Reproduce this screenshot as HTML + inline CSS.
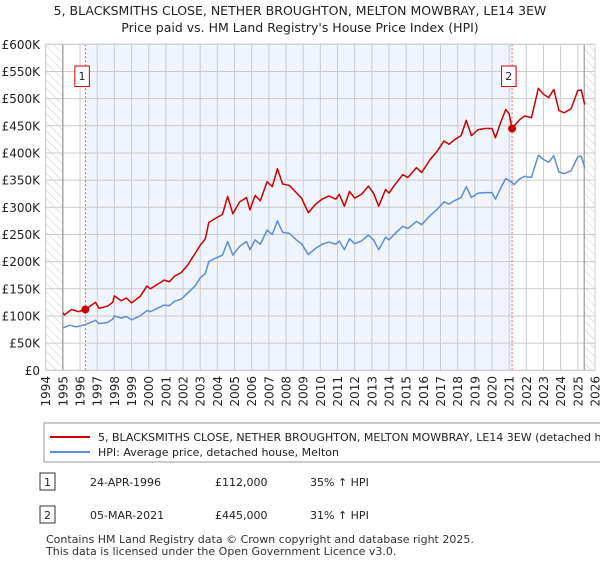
<!DOCTYPE html>
<html><head><meta charset="utf-8"><style>
body{margin:0;background:#fff;font-family:"Liberation Sans","DejaVu Sans",sans-serif;}
svg text{font-family:"DejaVu Sans","Liberation Sans",sans-serif;}
</style></head><body>
<svg id="chart" width="600" height="560" viewBox="0 0 600 560" xmlns="http://www.w3.org/2000/svg">
<defs><pattern id="hatch" width="6" height="6" patternUnits="userSpaceOnUse" patternTransform="rotate(-45)"><line x1="0" y1="0" x2="0" y2="6" stroke="#ccc" stroke-width="1"/></pattern></defs>
<text x="300" y="15" text-anchor="middle" font-size="12.5" fill="#222">5, BLACKSMITHS CLOSE, NETHER BROUGHTON, MELTON MOWBRAY, LE14 3EW</text>
<text x="300" y="32" text-anchor="middle" font-size="12.5" fill="#222">Price paid vs. HM Land Registry's House Price Index (HPI)</text>
<g id="plot"></g>
<g>
<rect x="44" y="423" width="560" height="39" fill="#fff" stroke="#999"/>
<line x1="50" y1="437" x2="90" y2="437" stroke="#cc0000" stroke-width="2"/>
<text x="98" y="441" font-size="11" fill="#222">5, BLACKSMITHS CLOSE, NETHER BROUGHTON, MELTON MOWBRAY, LE14 3EW (detached hous</text>
<line x1="50" y1="452" x2="90" y2="452" stroke="#5b8ed6" stroke-width="2"/>
<text x="98" y="456" font-size="11" fill="#222">HPI: Average price, detached house, Melton</text>
</g>
<g>
<rect x="40" y="473" width="15" height="17" fill="#fff" stroke="#333"/>
<text x="47.5" y="486" text-anchor="middle" font-size="11" fill="#222">1</text>
<text x="90" y="486" font-size="11" fill="#222">24-APR-1996</text>
<text x="215" y="486" font-size="11" fill="#222">£112,000</text>
<text x="310" y="486" font-size="11" fill="#222">35% ↑ HPI</text>
<rect x="40" y="506" width="15" height="17" fill="#fff" stroke="#333"/>
<text x="47.5" y="519" text-anchor="middle" font-size="11" fill="#222">2</text>
<text x="90" y="519" font-size="11" fill="#222">05-MAR-2021</text>
<text x="215" y="519" font-size="11" fill="#222">£445,000</text>
<text x="310" y="519" font-size="11" fill="#222">31% ↑ HPI</text>
</g>
<text x="46" y="543" font-size="11" fill="#333">Contains HM Land Registry data © Crown copyright and database right 2025.</text>
<text x="46" y="555" font-size="11" fill="#333">This data is licensed under the Open Government Licence v3.0.</text>
</svg>
<script>
const hpiYears=[1995.0,1995.4,1995.8,1996.3,1996.9,1997.1,1997.6,1997.9,1998.0,1998.4,1998.7,1999.0,1999.5,1999.9,2000.1,2000.5,2000.9,2001.2,2001.5,2001.9,2002.3,2002.7,2003.0,2003.3,2003.5,2003.8,2004.3,2004.6,2004.9,2005.3,2005.7,2005.9,2006.2,2006.5,2006.9,2007.2,2007.5,2007.8,2008.2,2008.6,2008.9,2009.3,2009.7,2010.1,2010.5,2010.9,2011.1,2011.4,2011.7,2012.0,2012.4,2012.8,2013.1,2013.4,2013.8,2014.0,2014.3,2014.8,2015.1,2015.6,2015.9,2016.4,2016.8,2017.2,2017.5,2017.8,2018.2,2018.5,2018.8,2019.2,2019.6,2020.0,2020.2,2020.5,2020.8,2021.1,2021.3,2021.6,2021.9,2022.3,2022.7,2023.0,2023.3,2023.6,2023.9,2024.2,2024.6,2025.0,2025.2,2025.4];
const hpiValues=[78,83,80,84,92,86,88,94,100,96,99,93,100,110,108,114,120,119,127,131,143,155,170,178,200,205,212,237,212,228,237,222,240,232,258,250,275,254,252,240,233,213,224,232,236,232,238,222,242,233,238,249,240,222,245,240,250,265,261,274,268,285,296,310,306,312,318,338,318,326,327,327,315,335,353,347,342,352,357,355,396,388,383,395,365,362,367,393,394,373];
const priceYears=[1995.0,1995.1,1995.5,1995.9,1996.31,1996.9,1997.1,1997.6,1997.9,1998.0,1998.4,1998.7,1999.0,1999.5,1999.9,2000.1,2000.5,2000.9,2001.2,2001.5,2001.9,2002.3,2002.7,2003.0,2003.3,2003.5,2003.8,2004.3,2004.6,2004.9,2005.3,2005.7,2005.9,2006.2,2006.5,2006.9,2007.2,2007.5,2007.8,2008.2,2008.6,2008.9,2009.3,2009.7,2010.1,2010.5,2010.9,2011.1,2011.4,2011.7,2012.0,2012.4,2012.8,2013.1,2013.4,2013.8,2014.0,2014.3,2014.8,2015.1,2015.6,2015.9,2016.4,2016.8,2017.2,2017.5,2017.8,2018.2,2018.5,2018.8,2019.2,2019.6,2020.0,2020.2,2020.5,2020.8,2021.0,2021.17,2021.3,2021.6,2021.9,2022.3,2022.7,2023.0,2023.3,2023.6,2023.9,2024.2,2024.6,2025.0,2025.2,2025.4];
const priceValues=[106,102,112,108,112,125,114,118,125,137,128,133,124,136,155,150,158,166,163,173,180,195,215,230,242,272,278,287,320,288,310,318,295,322,312,347,338,371,343,340,327,317,290,305,315,321,315,324,302,329,317,324,339,326,302,333,326,340,360,355,373,364,388,403,422,416,424,432,460,432,443,445,445,428,456,480,472,445,450,461,468,465,519,508,502,517,478,474,481,515,516,489];
const saleYears=[1996.31,2021.17];
const saleValues=[112,445];
const saleLabels=["1","2"];
const yTicks=[0,50,100,150,200,250,300,350,400,450,500,550,600];
const yTickLabels=["£0","£50K","£100K","£150K","£200K","£250K","£300K","£350K","£400K","£450K","£500K","£550K","£600K"];
const xTicks=[1994,1995,1996,1997,1998,1999,2000,2001,2002,2003,2004,2005,2006,2007,2008,2009,2010,2011,2012,2013,2014,2015,2016,2017,2018,2019,2020,2021,2022,2023,2024,2025,2026];
const dataStart=1995, dataEnd=2025.37;

const L=45.7,R=595,T=44.3,B=370.3,X0=1994,X1=2026,Ymax=600;
const x=v=>L+(v-X0)/(X1-X0)*(R-L);
const y=v=>B-v/Ymax*(B-T);
const NS="http://www.w3.org/2000/svg";
const g=document.getElementById('plot');
function mk(tag,attrs){const e=document.createElementNS(NS,tag);for(const k in attrs)e.setAttribute(k,attrs[k]);g.appendChild(e);return e;}
let e;
e=mk('rect',{x:L,y:T,width:R-L,height:B-T,fill:'#fff'});


e=mk('rect',{x:x(saleYears[0]),y:T,width:x(saleYears[1])-x(saleYears[0]),height:B-T,fill:'#f0f4fc'});


e=mk('rect',{x:L,y:T,width:x(dataStart)-L,height:B-T,fill:'url(#hatch)'});


e=mk('rect',{x:x(dataEnd),y:T,width:R-x(dataEnd),height:B-T,fill:'url(#hatch)'});


yTicks.forEach((t,i)=>{
 e=mk('line',{x1:L,x2:R,y1:y(t),y2:y(t),stroke:'#ccc','stroke-width':1});
 
 
 e=mk('text',{x:40,y:y(t)+4.5,'text-anchor':'end','font-size':12,fill:'#222'});
 e.textContent=yTickLabels[i];
 
 
});
xTicks.forEach(t=>{
 e=mk('line',{x1:x(t),x2:x(t),y1:T,y2:B,stroke:'#ccc','stroke-width':1});
 
 
 e=mk('text',{x:0,y:0,'text-anchor':'end','font-size':12,fill:'#222',transform:`translate(${x(t)+4.5},376) rotate(-90)`});
 e.textContent=String(t);
 
 
});
e=mk('line',{x1:x(dataStart),x2:x(dataStart),y1:T,y2:B,stroke:'#888','stroke-width':1});


e=mk('line',{x1:x(dataEnd),x2:x(dataEnd),y1:T,y2:B,stroke:'#888','stroke-width':1});


saleYears.forEach((s,i)=>{
 e=mk('line',{x1:x(s),x2:x(s),y1:T,y2:B,stroke:'#e06060','stroke-width':1,'stroke-dasharray':'2,2'});
 
 
 e=mk('rect',{x:x(s)-10.5,y:66,width:14.5,height:20.5,fill:'#fff',stroke:'#cc0000'});
 
 
 e=mk('text',{x:x(s)-3.3,y:80,'text-anchor':'middle','font-size':11,fill:'#222'});
 e.textContent=saleLabels[i];
 
 
});
e=mk('polyline',{points:hpiYears.map((v,i)=>x(v)+','+y(hpiValues[i])).join(' '),fill:'none',stroke:'#5b8ed6','stroke-width':1.5,'stroke-linejoin':'round'});


e=mk('polyline',{points:priceYears.map((v,i)=>x(v)+','+y(priceValues[i])).join(' '),fill:'none',stroke:'#cc0000','stroke-width':1.5,'stroke-linejoin':'round'});


saleYears.forEach((s,i)=>{
 e=mk('circle',{cx:x(s),cy:y(saleValues[i]),r:4,fill:'#cc0000'});
 
 
});
e=mk('rect',{x:L,y:T,width:R-L,height:B-T,fill:'none',stroke:'#ccc'});


</script>
</body></html>
